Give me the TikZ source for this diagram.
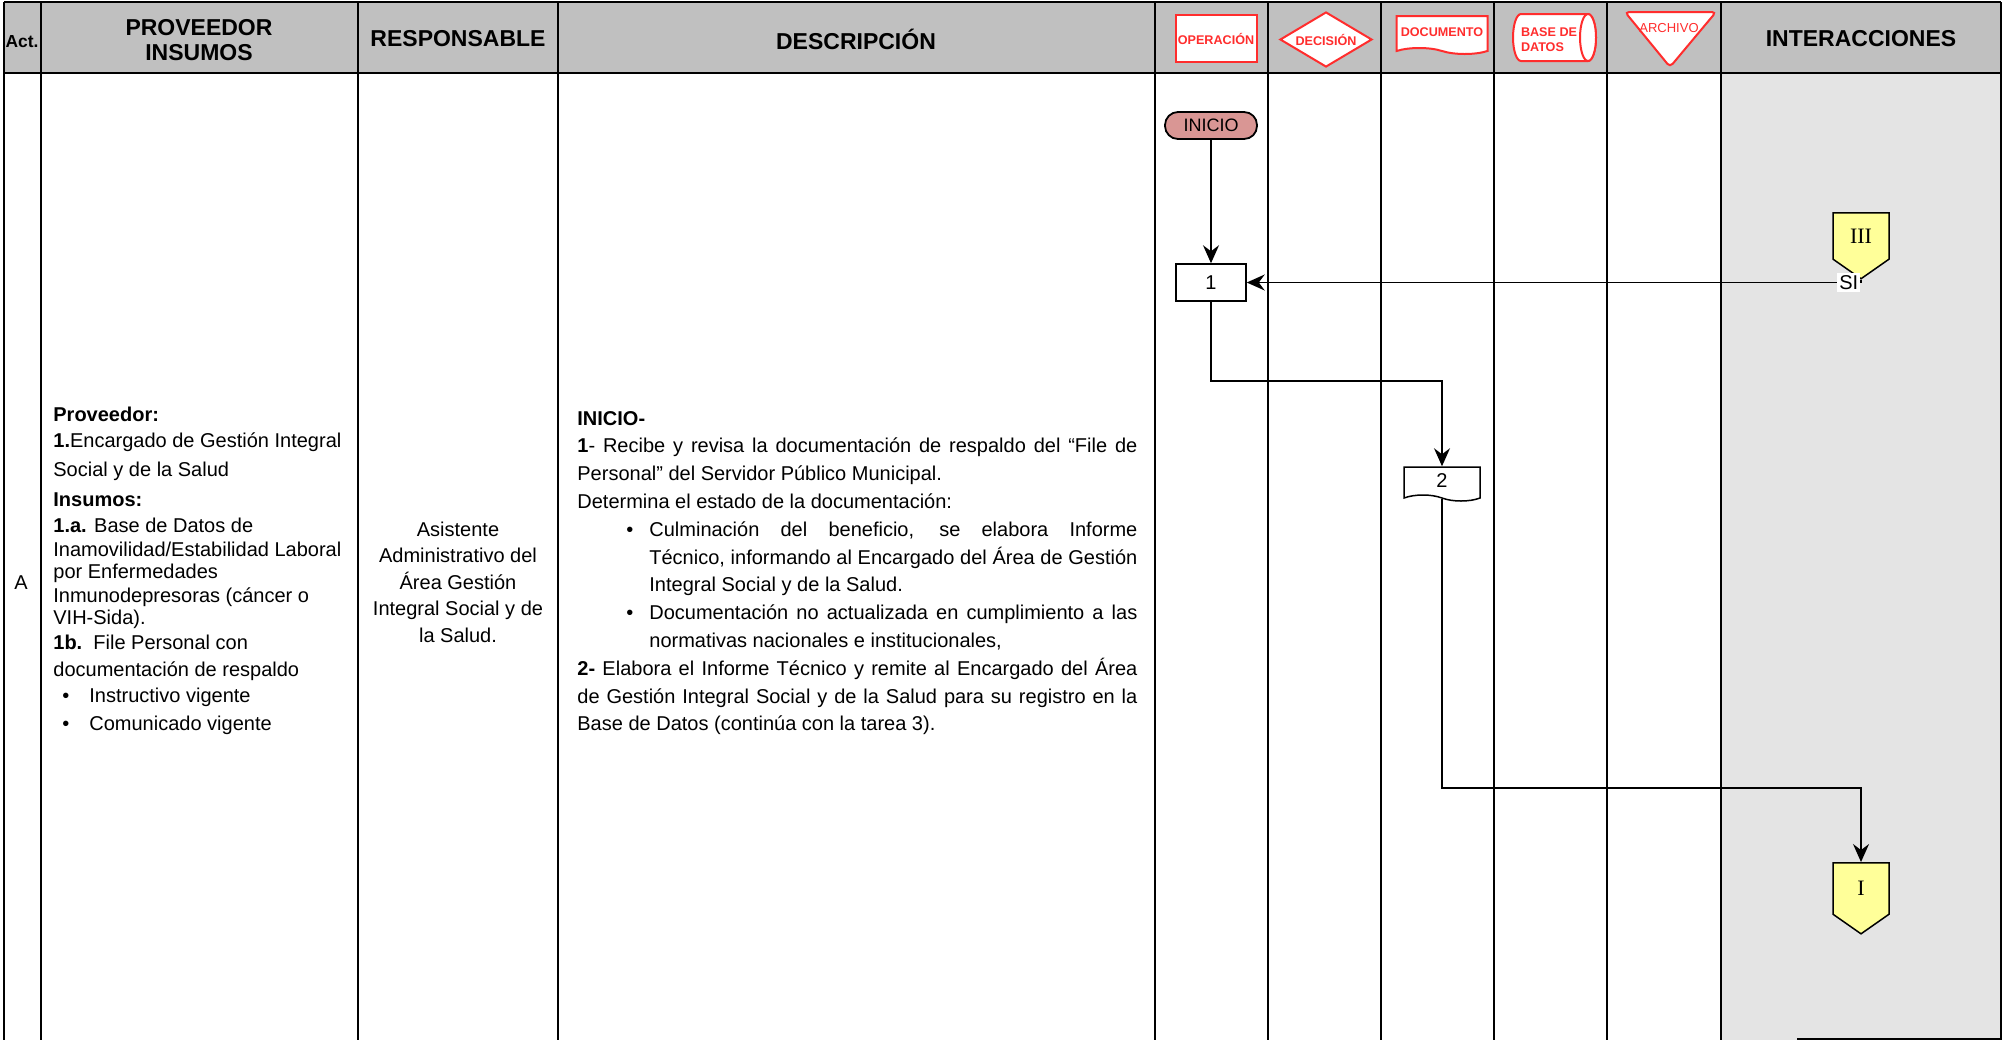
\documentclass[tikz,border=0pt]{standalone}
\usepackage{fontspec}
\setmainfont{Liberation Sans}
\newfontfamily\romanfont{Liberation Serif}
\usepackage{enumitem}
\usetikzlibrary{arrows.meta,shapes.geometric,shapes.symbols}
\definecolor{headgray}{RGB}{192,192,192}
\definecolor{lanegray}{RGB}{228,228,228}
\definecolor{symred}{RGB}{255,45,45}
\definecolor{startpink}{RGB}{217,150,148}
\definecolor{connyellow}{RGB}{255,255,153}

\begin{document}
\begin{tikzpicture}[x=0.5pt,y=-0.5pt,>={Stealth[length=9pt,width=8pt,inset=3pt]}]
  \tikzset{
    grid/.style={line width=1pt},
    head/.style={font=\fontsize{11.5}{12.5}\selectfont\bfseries,align=center},
    cell/.style={inner sep=0pt,font=\fontsize{10}{12}\selectfont},
    symline/.style={draw=symred,line width=1pt,fill=white},
    sym/.style={symline,text=symred,inner sep=0pt,font=\fontsize{6.3}{7.6}\selectfont\bfseries},
    flow/.style={->,line width=0.75pt},
    opbox/.style={draw,line width=0.75pt,fill=white,minimum width=35pt,minimum height=18.5pt,
                  font=\fontsize{10}{12}\selectfont},
    docbox/.style={tape,tape bend top=none,tape bend bottom=out and in,tape bend height=3pt},
    conn/.style={signal,signal to=south,signal from=nowhere,signal pointer angle=110,
                 draw,line width=0.75pt,fill=connyellow,minimum width=28pt,minimum height=27pt,
                 inner sep=0pt,font=\romanfont\fontsize{11}{12}\selectfont}
  }
  \useasboundingbox (0,0) rectangle (2013,1040);

  % table
  \fill[headgray] (4,2) rectangle (2001,73);
  \fill[lanegray] (1721,73) rectangle (2001,1040);
  \draw[grid] (4,2) -- (2001,2) (4,73) -- (2001,73) (1797,1039) -- (2001,1039);
  \foreach \cx in {4,41,358,558,1155,1268,1381,1494,1607,1721,2001}
    \draw[grid] (\cx,2) -- (\cx,1040);

  % header
  \node[head,font=\fontsize{8.7}{10}\selectfont\bfseries] (hAct) at (22,42) {Act.};
  \node[head] (hProv) at (199,40) {PROVEEDOR\\INSUMOS};
  \node[head] (hResp) at (458,39) {RESPONSABLE};
  \node[head] (hDesc) at (856,39) {DESCRIPCIÓN};
  \node[head] (hInt) at (1861,39) {INTERACCIONES};
  \node[sym,rectangle,minimum width=40.5pt,minimum height=23.5pt] (hOp) at (1216,38.5) {OPERACIÓN};
  \node[sym,diamond,aspect=1.67,minimum width=46pt,minimum height=27.5pt] (hDec) at (1326,39.5) {DECISIÓN};
  \node[sym,docbox,minimum width=45.5pt,minimum height=19pt] (hDoc) at (1442,32) {DOCUMENTO};
  \draw[symline] (1521,14) -- (1588,14) arc[start angle=-90,end angle=90,x radius=8,y radius=23.5]
    -- (1521,61) arc[start angle=90,end angle=270,x radius=8,y radius=23.5] -- cycle;
  \draw[symline] (1588,37.5) ellipse[x radius=8,y radius=23.5];
  \node[text=symred,inner sep=0pt,align=left,font=\fontsize{6.3}{7.6}\selectfont\bfseries]
    (hBd) at (1549,39.5) {BASE DE\\DATOS};
  \draw[symline,rounded corners=2pt] (1625,12) -- (1716,12) -- (1670,67) -- cycle;
  \node[text=symred,inner sep=0pt,font=\fontsize{6.5}{8}\selectfont] (hArch) at (1669,28) {ARCHIVO};

  % row A
  \node[cell] (act) at (21,583) {A};
  \node[cell,anchor=west,align=left] (prov) at (53,571) {%
    \textbf{Proveedor:}\\[1pt]
    \textbf{1.}Encargado de Gestión Integral\\[2.5pt]
    Social y de la Salud\\[3pt]
    \textbf{Insumos:}\\[1pt]
    \textbf{1.a.} Base de Datos de\\
    Inamovilidad/Estabilidad Laboral\\[-1pt]
    por Enfermedades\\
    Inmunodepresoras (cáncer o\\[-1pt]
    VIH-Sida).\\[0.5pt]
    \textbf{1b.}\ \ File Personal con\\[1.5pt]
    documentación de respaldo\\[1pt]
    \hspace*{4.5pt}\textbullet\hspace{10pt}Instructivo vigente\\[2pt]
    \hspace*{4.5pt}\textbullet\hspace{10pt}Comunicado vigente};
  \node[cell,align=center,font=\fontsize{10}{13.25}\selectfont] (resp) at (458,582)
    {Asistente\\Administrativo del\\Área Gestión\\Integral Social y de\\la Salud.};
  \node[cell,anchor=west,text width=280pt,align=justify,font=\fontsize{10}{13.9}\selectfont]
    (desc) at (577,573) {\parindent=0pt
    \textbf{INICIO-}\\
    \textbf{1}- Recibe y revisa la documentación de respaldo del “File de\linebreak Personal” del
    Servidor Público Municipal.\\
    Determina el estado de la documentación:
    \begin{itemize}[nosep,leftmargin=36pt,labelsep=8pt]
      \item Culminación del beneficio, se elabora Informe\linebreak Técnico, informando
        al Encargado del Área de Gestión Integral Social y de la Salud.
      \item Documentación no actualizada en cumplimiento a las\linebreak normativas nacionales e
        institucionales,
    \end{itemize}
    \textbf{2-} Elabora el Informe Técnico y remite al Encargado del Área\linebreak de Gestión
    Integral Social y de la Salud para su registro en la\linebreak Base de Datos (continúa con la
    tarea 3).\par};

  % flow
  \node[draw,line width=0.9pt,fill=startpink,rounded corners=6.5pt,minimum width=46pt,
        minimum height=13.5pt,inner sep=0pt,font=\fontsize{9}{10}\selectfont] (ini) at (1211,125.5) {INICIO};
  \node[opbox] (op1) at (1211,282.5) {1};
  \node[opbox,docbox,minimum width=38pt,minimum height=17pt] (doc2) at (1442,481) {2};
  \node[conn] (ent) at (1861,236) {III};
  \node[conn] (sal) at (1861,888.5) {I};
  \coordinate (k1) at (1330,381);
  \coordinate (k2) at (1650,788);

  \draw[flow] (ini) -- (op1);
  \draw[flow] (op1) |- (k1) -| (doc2);
  \draw[flow] (doc2) |- (k2) -| (sal);
  \draw[flow] (ent) |- node[pos=0.51,fill=white,inner sep=1pt,font=\fontsize{10}{12}\selectfont] {SI} (op1);
\end{tikzpicture}
\end{document}
